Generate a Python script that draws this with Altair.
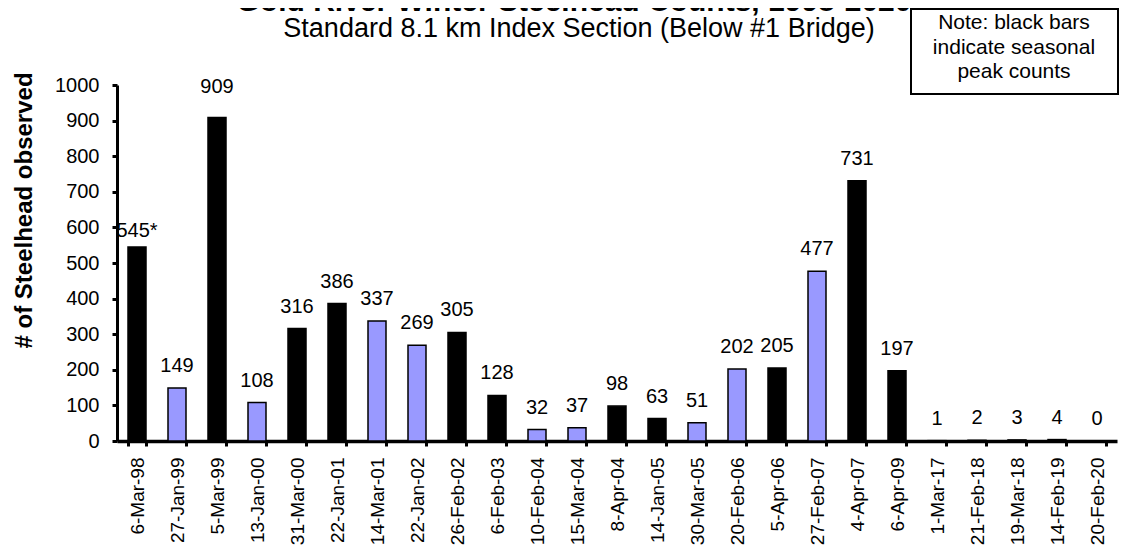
import altair as alt
import pandas as pd

dates = ["6-Mar-98", "27-Jan-99", "5-Mar-99", "13-Jan-00", "31-Mar-00", "22-Jan-01",
         "14-Mar-01", "22-Jan-02", "26-Feb-02", "6-Feb-03", "10-Feb-04", "15-Mar-04",
         "8-Apr-04", "14-Jan-05", "30-Mar-05", "20-Feb-06", "5-Apr-06", "27-Feb-07",
         "4-Apr-07", "6-Apr-09", "1-Mar-17", "21-Feb-18", "19-Mar-18", "14-Feb-19",
         "20-Feb-20"]
counts = [545, 149, 909, 108, 316, 386, 337, 269, 305, 128, 32, 37, 98, 63, 51,
          202, 205, 477, 731, 197, 1, 2, 3, 4, 0]
labels = ["545*", "149", "909", "108", "316", "386", "337", "269", "305", "128", "32",
          "37", "98", "63", "51", "202", "205", "477", "731", "197", "1", "2", "3",
          "4", "0"]
peak = [1, 0, 1, 0, 1, 1, 0, 0, 1, 1, 0, 0, 1, 1, 0, 0, 1, 0, 1, 1, 1, 1, 1, 1, 1]

title_text = "Gold River Winter Steelhead Counts, 1998-2020"
subtitle_text = "Standard 8.1 km Index Section (Below #1 Bridge)"
note_lines = ["Note: black bars", "indicate seasonal", "peak counts"]
y_title = "# of Steelhead observed"

FONT = "Liberation Sans"

df = pd.DataFrame({
    "date": dates,
    "count": counts,
    "label": labels,
    "kind": ["peak" if p else "other" for p in peak],
})

x_enc = alt.X(
    "date:N", sort=dates, title=None,
    scale=alt.Scale(paddingInner=0.55, paddingOuter=0.275),
    axis=alt.Axis(labelAngle=270, labelFontSize=19, labelFont=FONT, labelColor="black",
                  labelPadding=11, tickSize=5, tickWidth=3, tickColor="black",
                  tickBand="extent", domainWidth=3.5, domainColor="black",
                  labelOverlap=False, labelBound=False),
)
y_enc = alt.Y(
    "count:Q",
    scale=alt.Scale(domain=[0, 1000], nice=False),
    axis=alt.Axis(values=list(range(0, 1001, 100)), format="d", grid=False, labelFontSize=20,
                  labelFont=FONT, labelColor="black", labelPadding=13, tickSize=5,
                  tickWidth=3, tickColor="black", domainWidth=3, domainColor="black",
                  labelOverlap=False,
                  title=y_title, titleFont=FONT, titleFontSize=24, titleFontWeight="bold",
                  titleColor="black", titleAngle=270, titleX=-86, titleY=125,
                  titleAlign="center", titleBaseline="alphabetic"),
)

base = alt.Chart(df)

bars = base.mark_bar(stroke="black", strokeWidth=1.5).encode(
    x=x_enc,
    y=y_enc,
    color=alt.Color("kind:N", scale=alt.Scale(domain=["peak", "other"],
                                              range=["#000000", "#9999FF"]), legend=None),
)

txt_kw = dict(font=FONT, fontSize=20, color="black", baseline="alphabetic", align="center")
lab_main = base.transform_filter(
    "datum.date != '5-Mar-99' && datum.date != '6-Mar-98'"
).mark_text(dy=-16, **txt_kw).encode(x=x_enc, y=y_enc, text="label:N")
lab_909 = base.transform_filter("datum.date == '5-Mar-99'").mark_text(dy=-24, **txt_kw).encode(
    x=x_enc, y=y_enc, text="label:N")
lab_545 = base.transform_filter("datum.date == '6-Mar-98'").mark_text(dy=-10, **txt_kw).encode(
    x=x_enc, y=y_enc, text="label:N")

title_mark = alt.Chart(pd.DataFrame({"t": [title_text]})).mark_text(
    font=FONT, fontSize=30, fontWeight="bold", color="black", align="center",
    baseline="alphabetic").encode(x=alt.value(457), y=alt.value(-74), text="t:N")
subtitle_mark = alt.Chart(pd.DataFrame({"t": [subtitle_text]})).mark_text(
    font=FONT, fontSize=27, color="black", align="center",
    baseline="alphabetic").encode(x=alt.value(462), y=alt.value(-48), text="t:N")

box = alt.Chart(pd.DataFrame({"b": [1]})).mark_rect(
    fill="white", stroke="black", strokeWidth=2).encode(
    x=alt.value(794), x2=alt.value(1001), y=alt.value(-76), y2=alt.value(9))

note_kw = dict(font=FONT, fontSize=21, color="black", align="center", baseline="middle")
note1 = alt.Chart(pd.DataFrame({"t": [note_lines[0]]})).mark_text(**note_kw).encode(
    x=alt.value(897), y=alt.value(-62), text="t:N")
note2 = alt.Chart(pd.DataFrame({"t": [note_lines[1]]})).mark_text(**note_kw).encode(
    x=alt.value(897), y=alt.value(-37), text="t:N")
note3 = alt.Chart(pd.DataFrame({"t": [note_lines[2]]})).mark_text(**note_kw).encode(
    x=alt.value(897), y=alt.value(-13), text="t:N")

chart = alt.layer(bars, lab_main, lab_909, lab_545, title_mark, subtitle_mark,
                  box, note1, note2, note3).properties(
    width=1000, height=356,
    autosize=alt.AutoSizeParams(type="none"),
    padding={"left": 109, "top": 77, "right": 3, "bottom": 106},
    background="white",
).configure_view(stroke=None)

chart.save("out.html", embed_options={"renderer": "svg", "actions": False})
